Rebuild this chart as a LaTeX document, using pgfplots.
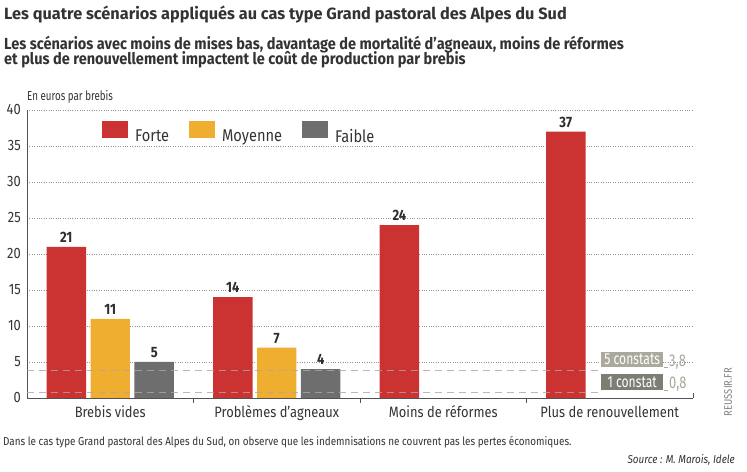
\documentclass[border=0pt]{standalone}
\usepackage{fontspec}
\setmainfont{Fira Sans}[FakeStretch=0.86]
\newfontfamily\titlefont{Fira Sans}
\newfontfamily\subfont{Fira Sans}[FakeStretch=0.91]
\newfontfamily\condfont{Fira Sans}[FakeStretch=0.75]
\newfontfamily\boxfont{Fira Sans}[FakeStretch=0.76]
\usepackage{pgfplots}
\pgfplotsset{compat=1.18}
\definecolor{cred}{HTML}{CB3332}
\definecolor{corange}{HTML}{F0AE30}
\definecolor{cgray}{HTML}{6E6E6E}
\definecolor{ctext}{HTML}{333333}
\definecolor{cbox5}{HTML}{ABA89C}
\definecolor{cbox1}{HTML}{7E7D74}
\definecolor{cnum}{HTML}{A9A69B}
\definecolor{cdash}{HTML}{A8A8A8}
\pgfplotsset{
  sqlegend/.style={legend image code/.code={\fill[##1,draw=none] (0bp,-2bp) rectangle (26bp,15bp);}},
  dashline/.style={forget plot, sharp plot, color=cdash, opacity=0.8, line width=1.4bp, dash pattern=on 7bp off 5bp},
  barlab/.style={nodes near coords, nodes near coords style={inner sep=0pt, anchor=south, yshift=4bp, font=\bfseries\fontsize{15bp}{18bp}\selectfont, text=ctext!90!black}},
}
\begin{document}
\begin{tikzpicture}[x=1bp,y=1bp]
\useasboundingbox (0,0) rectangle (747,472);
\begin{axis}[
  at={(27bp,74bp)}, anchor=south west, scale only axis,
  width=666bp, height=288bp,
  xmin=-0.5, xmax=3.5, ymin=0, ymax=40,
  ybar=4.5bp, bar width=0.237,
  axis x line*=bottom, axis y line*=left,
  axis line style={-, ctext!85, line width=0.9bp},
  /pgf/number format/assume math mode=true,
  ytick={0,5,...,40}, xtick={0,1,2,3},
  xticklabels={Brebis vides, Problèmes d’agneaux, Moins de réformes, Plus de renouvellement},
  major tick length=0pt,
  ymajorgrids, grid style={dotted, gray!85, line width=0.7bp},
  yticklabel style={inner sep=0pt, xshift=-6bp, font=\fontsize{15bp}{18bp}\selectfont, text=ctext},
  xticklabel style={inner sep=0pt, anchor=base, yshift=-20bp, font=\fontsize{15bp}{18bp}\selectfont, text=ctext},
  extra x ticks={0.5,1.5,2.5}, extra x tick labels={},
  extra x tick style={major tick length=5bp, tick align=outside, tick style={ctext!85, line width=0.9bp}, grid=none},
  legend style={at={(0.1126,0.922)}, anchor=west, draw=none, fill=none, inner sep=0pt,
    font=\fontsize{17bp}{20bp}\selectfont, text=ctext, legend columns=3,
    nodes={inner sep=0pt},
    /tikz/every odd column/.append style={column sep=7bp},
    /tikz/every even column/.append style={column sep=20bp}},
  clip=false,
]
\addplot[fill=cred, draw=none, sqlegend, barlab]
  coordinates {(0,21) (1,14) (2,24) (3,37)};
\addlegendentry{Forte}
\addplot[fill=corange, draw=none, sqlegend, barlab]
  coordinates {(0,11) (1,7)};
\addlegendentry{Moyenne}
\addplot[fill=cgray, draw=none, sqlegend, barlab]
  coordinates {(0,5) (1,4)};
\addlegendentry{Faible}
\addplot[dashline] coordinates {(-0.5,3.8) (2.93,3.8)};
\addplot[dashline] coordinates {(-0.5,0.8) (2.93,0.8)};
\draw[ctext!85, line width=0.9bp] (axis cs:3.5,0) -- ++(0pt,5bp);
\end{axis}
% labels for thresholds
\node[fill=cbox5, text=white, inner sep=0pt, minimum width=62bp, minimum height=15bp, anchor=south west,
  font=\boxfont\fontsize{16bp}{16bp}\selectfont] at (601,105) {5 constats};
\node[text=cnum, inner sep=0pt, anchor=base west, font=\boxfont\fontsize{17bp}{17bp}\selectfont] at (669,105) {3,8};
\node[fill=cbox1, text=white, inner sep=0pt, minimum width=62bp, minimum height=16bp, anchor=south west,
  font=\boxfont\fontsize{16bp}{16bp}\selectfont] at (601,82) {1 constat};
\node[text=cnum, inner sep=0pt, anchor=base west, font=\boxfont\fontsize{17bp}{17bp}\selectfont] at (669,83) {0,8};
\draw[cnum, line width=0.8bp] (663.5,105) -- (668,105);
\draw[cnum, line width=0.8bp] (663.5,82) -- (668,82);
% titles
\node[anchor=base west, inner sep=0pt, text=ctext, font=\titlefont\bfseries\fontsize{16.3bp}{19bp}\selectfont] at (4,452) {Les quatre scénarios appliqués au cas type Grand pastoral des Alpes du Sud};
\node[anchor=base west, inner sep=0pt, text=ctext, font=\subfont\bfseries\fontsize{16bp}{18bp}\selectfont] at (4,422) {Les scénarios avec moins de mises bas, davantage de mortalité d’agneaux, moins de réformes};
\node[anchor=base west, inner sep=0pt, text=ctext, font=\subfont\bfseries\fontsize{16bp}{18bp}\selectfont] at (4,407) {et plus de renouvellement impactent le coût de production par brebis};
\node[anchor=base west, inner sep=0pt, text=ctext, font=\condfont\fontsize{13bp}{16bp}\selectfont] at (27,371) {En euros par brebis};
\node[anchor=base west, inner sep=0pt, text=ctext, font=\fontsize{11.5bp}{14bp}\selectfont] at (3,26) {Dans le cas type Grand pastoral des Alpes du Sud, on observe que les indemnisations ne couvrent pas les pertes économiques.};
\node[anchor=base east, inner sep=0pt, text=ctext, font=\itshape\fontsize{11.5bp}{14bp}\selectfont] at (735,8) {Source : M. Marois, Idele};
\node[rotate=90, inner sep=0pt, text=gray, font=\fontsize{11bp}{13bp}\selectfont] at (728,80) {REUSSIR.FR};
\end{tikzpicture}
\end{document}
